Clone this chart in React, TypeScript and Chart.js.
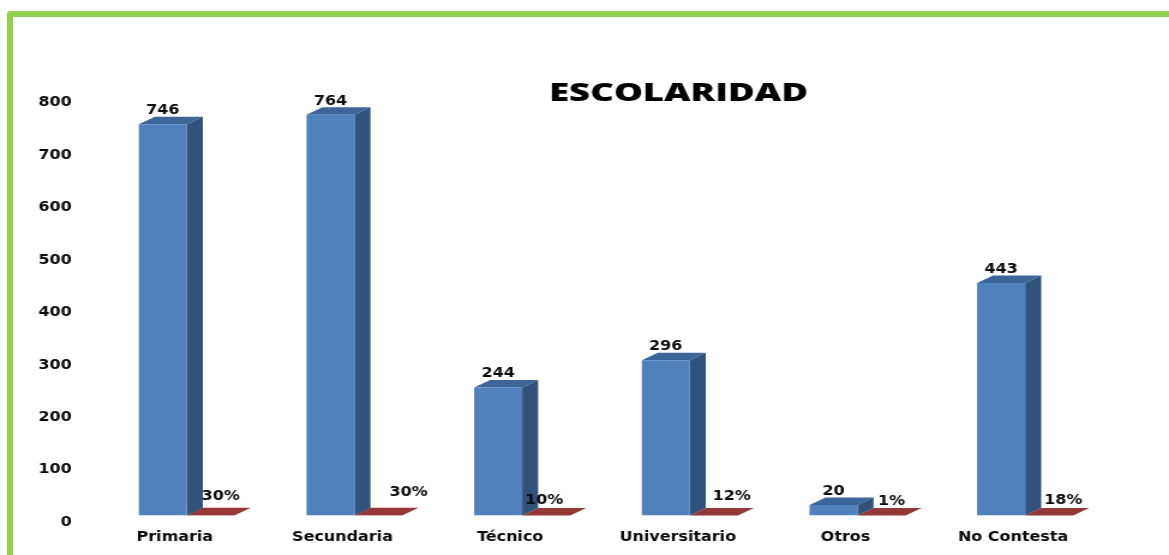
import React, { useEffect, useRef } from "react";
import { Chart, registerables } from "chart.js";

Chart.register(...registerables);

const categories = ["Primaria", "Secundaria", "Técnico", "Universitario", "Otros", "No Contesta"];
const counts = [746, 764, 244, 296, 20, 443];
const shares = [0.3, 0.3, 0.1, 0.12, 0.01, 0.18];
const titleText = "ESCOLARIDAD";

// label nudges (in screen pixels) for the hand-placed percentage labels
const shareDx = [10, 30, -2, 18, 10, 14];
const shareDy = [-18.5, -22.5, -14.5, -18.5, -14, -14.5];

const CANVAS_W = 974;
const CANVAS_H = 555;
const SX = 1169 / CANVAS_W;
const DEPTH_X = 16 / SX;
const DEPTH_Y = 7.5;
const FONT = { family: "'DejaVu Sans'", size: 13.3, weight: "bold" as const };
const INK = "#0a0a0a";
const TITLE_CX = 678.5 / SX;
const TITLE_W = 259 / SX;

const poly = (ctx: CanvasRenderingContext2D, pts: number[][], fill: string) => {
  ctx.beginPath();
  pts.forEach(([x, y], i) => (i ? ctx.lineTo(x, y) : ctx.moveTo(x, y)));
  ctx.closePath();
  ctx.fillStyle = fill;
  ctx.fill();
};

const bars3d = {
  id: "bars3d",
  afterLayout(chart: any) {
    const t = chart.titleBlock;
    if (!t) return;
    const half = 150;
    t.left = TITLE_CX - half;
    t.right = TITLE_CX + half;
    t.width = half * 2;
    const h = t.bottom - t.top;
    t.top = 94 - h / 2;
    t.bottom = t.top + h;
    if (!t.__stretched) {
      t.__stretched = true;
      const draw = t.draw.bind(t);
      t.draw = () => {
        const ctx = chart.ctx;
        ctx.save();
        ctx.font = "800 24px 'Open Sans'";
        const k = TITLE_W / ctx.measureText(titleText).width;
        ctx.translate(TITLE_CX, 0);
        ctx.scale(k, 1);
        ctx.translate(-TITLE_CX, 0);
        draw();
        ctx.restore();
      };
    }
  },
  beforeDatasetsDraw(chart: any) {
    const ctx = chart.ctx;
    const sets = [
      { i: 1, top: "#953735", side: "#953735" },
      { i: 0, top: "#3c659a", side: "#31527b" },
    ];
    ctx.save();
    sets.forEach(({ i, top, side }) => {
      chart.getDatasetMeta(i).data.forEach((bar: any) => {
        const l = bar.x - bar.width / 2;
        const r = bar.x + bar.width / 2;
        const y = bar.y;
        const b = bar.base;
        poly(ctx, [[l, y], [r, y], [r + DEPTH_X, y - DEPTH_Y], [l + DEPTH_X, y - DEPTH_Y]], top);
        if (b - y > 0.5) {
          poly(ctx, [[r, y], [r + DEPTH_X, y - DEPTH_Y], [r + DEPTH_X, b - DEPTH_Y], [r, b]], side);
        }
      });
    });
    ctx.restore();
  },
  afterDatasetsDraw(chart: any) {
    const ctx = chart.ctx;
    ctx.save();
    ctx.font = `${FONT.weight} ${FONT.size}px ${FONT.family}`;
    ctx.fillStyle = INK;
    ctx.textAlign = "center";
    ctx.textBaseline = "middle";
    chart.getDatasetMeta(0).data.forEach((bar: any, i: number) => {
      ctx.fillText(String(counts[i]), bar.x, bar.y - 13.5);
    });
    chart.getDatasetMeta(1).data.forEach((bar: any, i: number) => {
      ctx.fillText(`${Math.round(shares[i] * 100)}%`, bar.x + shareDx[i] / SX, bar.base + shareDy[i]);
    });
    ctx.restore();
  },
};

export default function App() {
  const ref = useRef<HTMLCanvasElement>(null);
  useEffect(() => {
    if (!ref.current) return;
    const chart = new Chart(ref.current, {
      type: "bar",
      data: {
        labels: categories,
        datasets: [
          { label: "Cantidad", data: counts, backgroundColor: "#4f81bd", borderWidth: 0 },
          { label: "Porcentaje", data: shares, backgroundColor: "#953735", borderWidth: 0 },
        ],
      },
      options: {
        animation: false,
        responsive: false,
        devicePixelRatio: 1,
        categoryPercentage: 0.573,
        barPercentage: 1,
        layout: { padding: { top: 67, left: 0, right: 50, bottom: 0 } },
        plugins: {
          legend: { display: false },
          tooltip: { enabled: false },
          title: {
            display: true,
            text: titleText,
            color: "#000000",
            padding: 0,
            font: { family: "'Open Sans'", size: 24, weight: "800", lineHeight: 1.2 },
          },
        },
        scales: {
          x: {
            grid: { display: false, drawTicks: false },
            border: { display: false },
            afterFit(s: any) { s.height = 39.5; },
            ticks: { color: INK, font: FONT, padding: 14, labelOffset: -12 / SX, maxRotation: 0, autoSkip: false },
          },
          y: {
            min: 0,
            max: 800,
            grid: { display: false, drawTicks: false },
            border: { display: false },
            afterFit(s: any) { s.width = 103 / SX; },
            ticks: { stepSize: 100, color: INK, font: FONT, padding: 26, labelOffset: 7 },
          },
        },
      } as any,
      plugins: [bars3d],
    });
    return () => chart.destroy();
  }, []);

  return (
    <div style={{ position: "absolute", left: 0, top: 0, width: 1169, height: 555, overflow: "hidden", background: "#fff" }}>
      <div
        style={{
          position: "absolute",
          left: 7,
          top: 11,
          width: 1300,
          height: 700,
          borderLeft: "6px solid #92d050",
          borderTop: "6px solid #92d050",
          borderTopLeftRadius: 4,
          boxSizing: "border-box",
        }}
      />
      <div style={{ position: "absolute", left: 0, top: 0, transform: `scale(${SX}, 1)`, transformOrigin: "0 0" }}>
        <canvas ref={ref} width={CANVAS_W} height={CANVAS_H} style={{ display: "block" }} />
      </div>
    </div>
  );
}
